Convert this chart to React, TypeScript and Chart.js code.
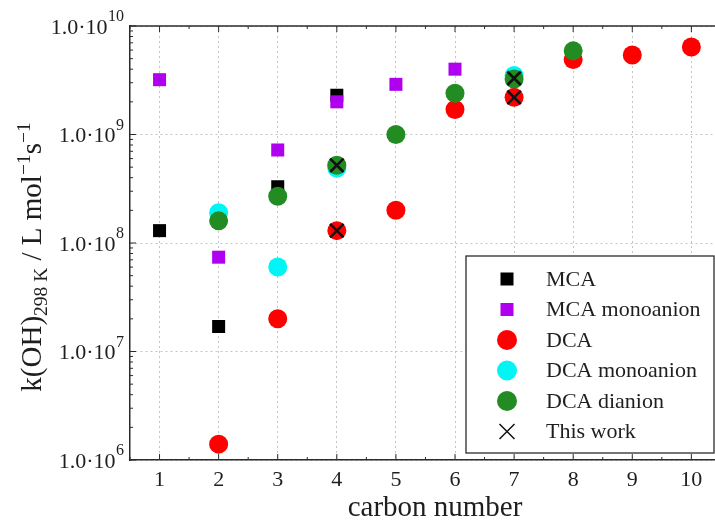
import React, { useEffect, useRef } from 'react';
import { Chart, registerables } from 'chart.js';

Chart.register(...registerables);

const FONT = '"Liberation Serif", "DejaVu Serif", serif';
const AXIS = '#2b2b2b';
const GRID = '#c4c4c4';
const TEXT = '#1e1e1e';

// ---- data ----
const xTickValues = [1, 2, 3, 4, 5, 6, 7, 8, 9, 10];
const yDecades = [1e6, 1e7, 1e8, 1e9, 1e10];
const yTickBase = '1.0·10';
const yTickExponents = ['6', '7', '8', '9', '10'];
const xTitle = 'carbon number';

const seriesNames = ['MCA', 'MCA monoanion', 'DCA', 'DCA monoanion', 'DCA dianion', 'This work'];

const mcaX = [1, 2, 3, 4];
const mcaY = [1.3e8, 1.7e7, 3.3e8, 2.3e9];

const mcaMonoX = [1, 2, 3, 4, 5, 6];
const mcaMonoY = [3.2e9, 7.4e7, 7.2e8, 2.0e9, 2.9e9, 4.0e9];

const dcaX = [2, 3, 4, 5, 6, 7, 8, 9, 10];
const dcaY = [1.4e6, 2.0e7, 1.3e8, 2.0e8, 1.7e9, 2.2e9, 4.9e9, 5.4e9, 6.4e9];

const dcaMonoX = [2, 3, 4, 7];
const dcaMonoY = [1.9e8, 6.0e7, 4.9e8, 3.5e9];

const dcaDiX = [2, 3, 4, 5, 6, 7, 8];
const dcaDiY = [1.6e8, 2.7e8, 5.2e8, 1.0e9, 2.4e9, 3.25e9, 5.9e9];

const thisWorkX = [4, 4, 7, 7];
const thisWorkY = [1.3e8, 5.2e8, 2.2e9, 3.3e9];

const toPts = (xs: number[], ys: number[]) => xs.map((x, i) => ({ x, y: ys[i] }));

function drawMarker(ctx: CanvasRenderingContext2D, style: string, cx: number, cy: number, r: number, fill: string, lw: number) {
  ctx.save();
  if (style === 'rect') {
    ctx.fillStyle = fill;
    ctx.fillRect(cx - r, cy - r, 2 * r, 2 * r);
  } else if (style === 'circle') {
    ctx.fillStyle = fill;
    ctx.beginPath();
    ctx.arc(cx, cy, r, 0, Math.PI * 2);
    ctx.fill();
  } else {
    ctx.strokeStyle = fill;
    ctx.lineWidth = lw;
    ctx.beginPath();
    ctx.moveTo(cx - r, cy - r);
    ctx.lineTo(cx + r, cy + r);
    ctx.moveTo(cx + r, cy - r);
    ctx.lineTo(cx - r, cy + r);
    ctx.stroke();
  }
  ctx.restore();
}

const decorPlugin = {
  id: 'decor',
  afterDraw(chart: any) {
    const { ctx, chartArea: a, scales } = chart;
    const xs = scales.x;
    const ys = scales.y;
    ctx.save();
    const line = (x1: number, y1: number, x2: number, y2: number) => {
      ctx.beginPath();
      ctx.moveTo(x1, y1);
      ctx.lineTo(x2, y2);
      ctx.stroke();
    };
    // top frame
    ctx.strokeStyle = AXIS;
    ctx.lineWidth = 1.5;
    line(a.left, a.top, a.right, a.top);
    // x ticks (inward, top & bottom)
    ctx.lineWidth = 1;
    for (let v = Math.ceil(xs.min * 2) / 2; v <= xs.max + 1e-9; v += 0.5) {
      const px = xs.getPixelForValue(v);
      const len = Number.isInteger(v) ? 6 : 3;
      line(px, a.bottom, px, a.bottom - len);
      line(px, a.top, px, a.top + len);
    }
    // y ticks (inward, left)
    for (let e = 6; e <= 10; e++) {
      for (let m = 1; m <= 9; m++) {
        const v = m * Math.pow(10, e);
        if (v > 1e10) break;
        const py = ys.getPixelForValue(v);
        line(a.left, py, a.left + (m === 1 ? 6 : 3), py);
      }
    }
    // x tick labels
    ctx.fillStyle = TEXT;
    ctx.font = `22px ${FONT}`;
    ctx.textAlign = 'center';
    ctx.textBaseline = 'alphabetic';
    xTickValues.forEach((v) => {
      ctx.fillText(String(v), xs.getPixelForValue(v), 486);
    });
    // y tick labels with superscripts
    const labelRight = a.left - 6;
    yDecades.forEach((v, i) => {
      const py = ys.getPixelForValue(v);
      ctx.fillStyle = TEXT;
      ctx.textBaseline = 'middle';
      ctx.font = `16px ${FONT}`;
      const ew = ctx.measureText(yTickExponents[i]).width;
      ctx.textAlign = 'left';
      ctx.fillText(yTickExponents[i], labelRight - ew, py - 9);
      ctx.font = `22px ${FONT}`;
      ctx.textAlign = 'right';
      ctx.fillText(yTickBase, labelRight - ew - 0.5, py + 2);
    });
    // x axis title
    ctx.font = `29px ${FONT}`;
    ctx.textAlign = 'center';
    ctx.textBaseline = 'alphabetic';
    ctx.fillStyle = TEXT;
    ctx.fillText(xTitle, 435, 516);
    // y axis title (rotated, with sub/superscripts)
    const segs = [
      { t: 'k(OH)', size: 29, dy: 0 },
      { t: '298 K', size: 19.5, dy: 6 },
      { t: ' / L mol', size: 29, dy: 0 },
      { t: '−1', size: 19.5, dy: -11 },
      { t: 's', size: 29, dy: 0 },
      { t: '−1', size: 19.5, dy: -11 },
    ];
    let total = 0;
    const widths = segs.map((s) => {
      ctx.font = `${s.size}px ${FONT}`;
      const w = ctx.measureText(s.t).width;
      total += w;
      return w;
    });
    ctx.save();
    ctx.translate(41, 257);
    ctx.rotate(-Math.PI / 2);
    ctx.textAlign = 'left';
    ctx.textBaseline = 'alphabetic';
    ctx.fillStyle = TEXT;
    let cx = -total / 2;
    segs.forEach((s, i) => {
      ctx.font = `${s.size}px ${FONT}`;
      ctx.fillText(s.t, cx, s.dy);
      cx += widths[i];
    });
    ctx.restore();
    // legend box
    const bx = 466, by = 256, bw = 248, bh = 197;
    ctx.fillStyle = '#fff';
    ctx.fillRect(bx, by, bw, bh);
    ctx.strokeStyle = AXIS;
    ctx.lineWidth = 1.3;
    ctx.strokeRect(bx, by, bw, bh);
    const ds = chart.data.datasets;
    ds.forEach((d: any, i: number) => {
      const ry = 279 + i * 30.5;
      const style = d.pointStyle;
      const r = style === 'rect' ? 6.5 : style === 'circle' ? 10 : 7.5;
      drawMarker(ctx, style, 507, ry, r, style === 'crossRot' ? d.borderColor : d.backgroundColor, 1.5);
      ctx.fillStyle = TEXT;
      ctx.font = `22px ${FONT}`;
      ctx.textAlign = 'left';
      ctx.textBaseline = 'middle';
      ctx.fillText(d.label, 546, ry + 1);
    });
    ctx.restore();
  },
};

export default function App() {
  const ref = useRef<HTMLCanvasElement | null>(null);
  useEffect(() => {
    if (!ref.current) return;
    const colors = ['#000000', '#b000f0', '#ff0000', '#00f5f5', '#228b22', '#111111'];
    const chart = new Chart(ref.current, {
      type: 'scatter',
      data: {
        datasets: [
          { label: seriesNames[0], data: toPts(mcaX, mcaY), pointStyle: 'rect', radius: 9.2, backgroundColor: colors[0], borderWidth: 0, order: 5 },
          { label: seriesNames[1], data: toPts(mcaMonoX, mcaMonoY), pointStyle: 'rect', radius: 9.2, backgroundColor: colors[1], borderWidth: 0, order: 4 },
          { label: seriesNames[2], data: toPts(dcaX, dcaY), pointStyle: 'circle', radius: 9.5, backgroundColor: colors[2], borderWidth: 0, order: 3 },
          { label: seriesNames[3], data: toPts(dcaMonoX, dcaMonoY), pointStyle: 'circle', radius: 9.5, backgroundColor: colors[3], borderWidth: 0, order: 2 },
          { label: seriesNames[4], data: toPts(dcaDiX, dcaDiY), pointStyle: 'circle', radius: 9.5, backgroundColor: colors[4], borderWidth: 0, order: 1 },
          { label: seriesNames[5], data: toPts(thisWorkX, thisWorkY), pointStyle: 'crossRot', radius: 9.5, backgroundColor: colors[5], borderColor: colors[5], borderWidth: 2.6, order: 0 },
        ] as any,
      },
      options: {
        animation: false,
        responsive: true,
        maintainAspectRatio: false,
        events: [],
        layout: { autoPadding: false, padding: { top: 26, right: 0, left: 0, bottom: 0 } },
        plugins: { legend: { display: false }, tooltip: { enabled: false } },
        scales: {
          x: {
            type: 'linear',
            min: 0.5,
            max: 10.4,
            afterBuildTicks: (s: any) => {
              s.ticks = xTickValues.map((v) => ({ value: v }));
            },
            afterFit: (s: any) => {
              s.height = 61;
            },
            grid: { color: GRID, lineWidth: 1, drawTicks: false },
            border: { color: AXIS, width: 1.5, dash: [2, 3] },
            ticks: { display: false },
            title: { display: false },
          },
          y: {
            type: 'logarithmic',
            min: 1e6,
            max: 1e10,
            afterBuildTicks: (s: any) => {
              s.ticks = yDecades.map((v) => ({ value: v }));
            },
            afterFit: (s: any) => {
              s.width = 130;
            },
            grid: { color: GRID, lineWidth: 1, drawTicks: false },
            border: { color: AXIS, width: 1.5, dash: [2, 3] },
            ticks: { display: false },
          },
        },
      } as any,
      plugins: [decorPlugin],
    });
    return () => chart.destroy();
  }, []);
  return (
    <div style={{ position: 'absolute', left: 0, top: 0, width: 715, height: 521, background: '#fff' }}>
      <canvas ref={ref} />
    </div>
  );
}
